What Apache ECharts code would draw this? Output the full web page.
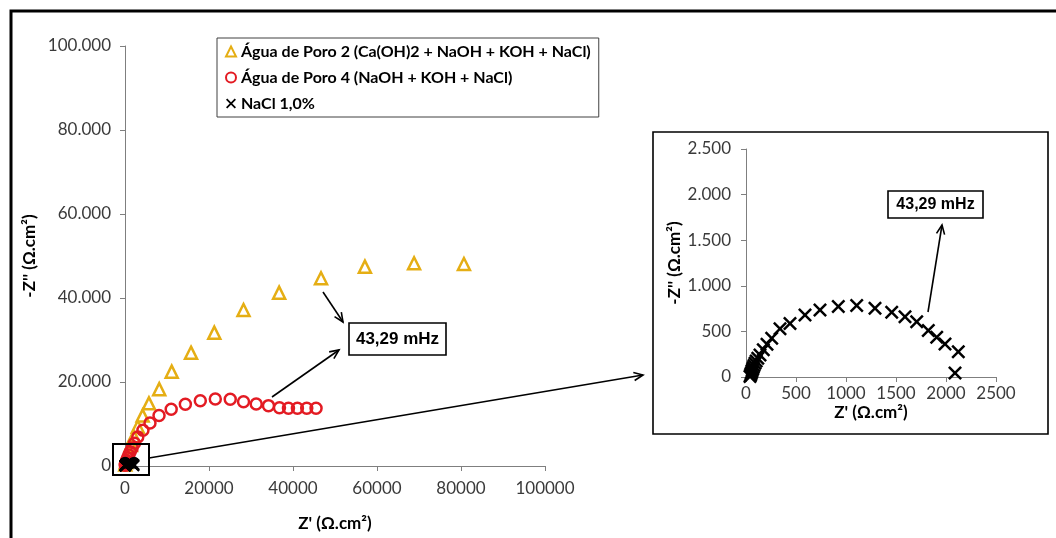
<!DOCTYPE html>
<html>
<head>
<meta charset="utf-8">
<script src="https://cdn.jsdelivr.net/npm/echarts@6/dist/echarts.min.js"></script>
<style>
  html, body { margin: 0; padding: 0; background: #fff; }
  #chart { width: 1056px; height: 538px; }
</style>
</head>
<body>
<div id="chart"></div>
<script>
// Água de Poro 2 (triangulos)
var poro2X = [80, 200, 450, 850, 1400, 2100, 3040, 4200, 5700, 8150, 11120, 15720, 21260, 28220, 36700, 46670, 57120, 68830, 80700];
var poro2Y = [350, 900, 1900, 3300, 5000, 7000, 9360, 12000, 14920, 18300, 22460, 26980, 31750, 37140, 41270, 44690, 47460, 48260, 48100];

// Água de Poro 4 (circulos)
var poro4X = [50, 110, 220, 380, 600, 900, 1250, 1700, 2260, 3040, 4270, 5950, 8100, 11000, 14370, 17930, 21500, 25060, 28220, 31240, 34160, 36780, 38920, 41050, 43270, 45490];
var poro4Y = [150, 400, 800, 1300, 1900, 2600, 3400, 4300, 5400, 6900, 8500, 10250, 12000, 13500, 14700, 15560, 15950, 15870, 15320, 14760, 14370, 13890, 13730, 13730, 13730, 13730];

// NaCl 1,0% (x)
var naclX = [40, 45, 50, 55, 60, 66, 72, 80, 90, 102, 118, 140, 173, 210, 257, 340, 440, 590, 740, 923, 1107, 1290, 1457, 1590, 1707, 1823, 1907, 1990, 2123, 2090];
var naclY = [5, 20, 35, 50, 68, 85, 105, 125, 150, 175, 205, 240, 300, 360, 425, 530, 586, 679, 735, 773, 784, 754, 709, 660, 605, 511, 437, 362, 276, 45];

var mainTicks = [0, 20000, 40000, 60000, 80000, 100000];
var insetTicks = [0, 500, 1000, 1500, 2000, 2500];

function pares(xs, ys) {
    return xs.map(function (x, i) { return [x, ys[i]]; });
}
function milhar(v) {
    return String(v).replace(/\B(?=(\d{3})+(?!\d))/g, '.');
}
function seta(x1, y1, x2, y2) {
    var a = Math.atan2(y2 - y1, x2 - x1), L = 10, s = 0.42;
    return {
        type: 'group', z: 100,
        children: [
            {type: 'line', shape: {x1: x1, y1: y1, x2: x2, y2: y2}, style: {stroke: '#000', lineWidth: 1.6}},
            {type: 'polyline', shape: {points: [
                [x2 - L * Math.cos(a - s), y2 - L * Math.sin(a - s)], [x2, y2],
                [x2 - L * Math.cos(a + s), y2 - L * Math.sin(a + s)]]},
             style: {stroke: '#000', lineWidth: 1.6, fill: null}}
        ]
    };
}
function caixa(x, y, w, h, txt, fs) {
    return {
        type: 'group', z: 100,
        children: [
            {type: 'rect', shape: {x: x, y: y, width: w, height: h}, style: {fill: '#fff', stroke: '#000', lineWidth: 1.6}},
            {type: 'text', x: x + w / 2, y: y + h / 2,
             style: {text: txt, font: 'bold ' + fs + 'px "Liberation Sans", Arial', fill: '#000',
                     align: 'center', verticalAlign: 'middle', textAlign: 'center', textVerticalAlign: 'middle'}}
        ]
    };
}

var xis = 'path://M0,1.5 L1.5,0 L6,4.5 L10.5,0 L12,1.5 L7.5,6 L12,10.5 L10.5,12 L6,7.5 L1.5,12 L0,10.5 L4.5,6 Z';
var fonte = 'Lato';
var corEixo = '#7f7f7f';

function eixo(ticks, nome, gap, fmt, rot, margem) {
    return {
        type: 'value',
        min: ticks[0], max: ticks[ticks.length - 1], interval: ticks[1] - ticks[0],
        name: nome, nameLocation: 'middle', nameGap: gap,
        nameTextStyle: {fontFamily: fonte, fontWeight: 'bold', fontSize: 17, color: '#000'},
        nameRotate: rot,
        axisLine: {show: true, onZero: false, lineStyle: {color: corEixo, width: 1}},
        axisTick: {show: true, length: 5, lineStyle: {color: corEixo}},
        axisLabel: {fontFamily: fonte, fontSize: 17, color: '#3a3a3a', formatter: fmt, margin: margem},
        splitLine: {show: false}
    };
}

var myChart = echarts.init(document.getElementById('chart'));
var option = {
    backgroundColor: '#fff',
    animation: false,
    grid: [
        {left: 125, right: 511, top: 46, bottom: 72},
        {left: 746, right: 60, top: 149, bottom: 161}
    ],
    xAxis: [
        eixo(mainTicks, "Z' (Ω.cm²)", 49, function (v) { return String(v); }, 0, 14),
        Object.assign(eixo(insetTicks, "Z' (Ω.cm²)", 27, function (v) { return String(v); }, 0, 8), {gridIndex: 1})
    ],
    yAxis: [
        eixo(mainTicks, "-Z'' (Ω.cm²)", 87, milhar, 90, 14),
        Object.assign(eixo(insetTicks, "-Z'' (Ω.cm²)", 63, milhar, 90, 15), {gridIndex: 1})
    ],
    legend: {
        left: 217, top: 38, orient: 'vertical',
        backgroundColor: '#fff', borderColor: '#404040', borderWidth: 1,
        padding: [5, 8, 5, 8], itemGap: 9, itemWidth: 10, itemHeight: 10,
        textStyle: {fontFamily: fonte, fontWeight: 'bold', fontSize: 16, color: '#000', lineHeight: 17},
        data: ['Água de Poro 2 (Ca(OH)2 + NaOH + KOH + NaCl)', 'Água de Poro 4 (NaOH + KOH + NaCl)', 'NaCl 1,0%']
    },
    series: [
        {
            name: 'Água de Poro 2 (Ca(OH)2 + NaOH + KOH + NaCl)', type: 'scatter', clip: false,
            symbol: 'triangle', symbolSize: 12,
            itemStyle: {color: 'rgba(255,255,255,0)', borderColor: '#E5AE14', borderWidth: 2.5, opacity: 1},
            data: pares(poro2X, poro2Y)
        },
        {
            name: 'Água de Poro 4 (NaOH + KOH + NaCl)', type: 'scatter', clip: false,
            symbol: 'circle', symbolSize: 11,
            itemStyle: {color: 'rgba(255,255,255,0)', borderColor: '#E31B23', borderWidth: 2.5, opacity: 1},
            data: pares(poro4X, poro4Y)
        },
        {
            name: 'NaCl 1,0%', type: 'scatter', clip: false,
            symbol: xis, symbolSize: 12,
            itemStyle: {color: '#000', opacity: 1},
            data: pares(naclX, naclY)
        },
        {
            name: 'NaCl 1,0%', type: 'scatter', clip: false, xAxisIndex: 1, yAxisIndex: 1,
            symbol: xis, symbolSize: 14,
            itemStyle: {color: '#000', opacity: 1},
            data: pares(naclX, naclY)
        }
    ],
    graphic: [
        // moldura externa
        {type: 'polyline', z: 100, shape: {points: [[11, 560], [11, 11], [1060, 11]]}, style: {stroke: '#000', lineWidth: 3, fill: null}},
        // caixa do detalhe
        {type: 'rect', z: 100, shape: {x: 653, y: 132, width: 395, height: 302}, style: {fill: null, stroke: '#000', lineWidth: 1.6}},
        // retangulo de zoom no grafico principal
        {type: 'rect', z: 100, shape: {x: 113, y: 444, width: 36, height: 31}, style: {fill: null, stroke: '#000', lineWidth: 2}},
        seta(149, 458, 643, 375),
        seta(323, 292, 343, 322),
        seta(272, 397, 339, 350),
        seta(928, 312, 942, 225),
        caixa(349, 323, 97, 32, '43,29 mHz', 17),
        caixa(888, 191, 95, 27, '43,29 mHz', 16)
    ]
};
myChart.setOption(option);
</script>
</body>
</html>
